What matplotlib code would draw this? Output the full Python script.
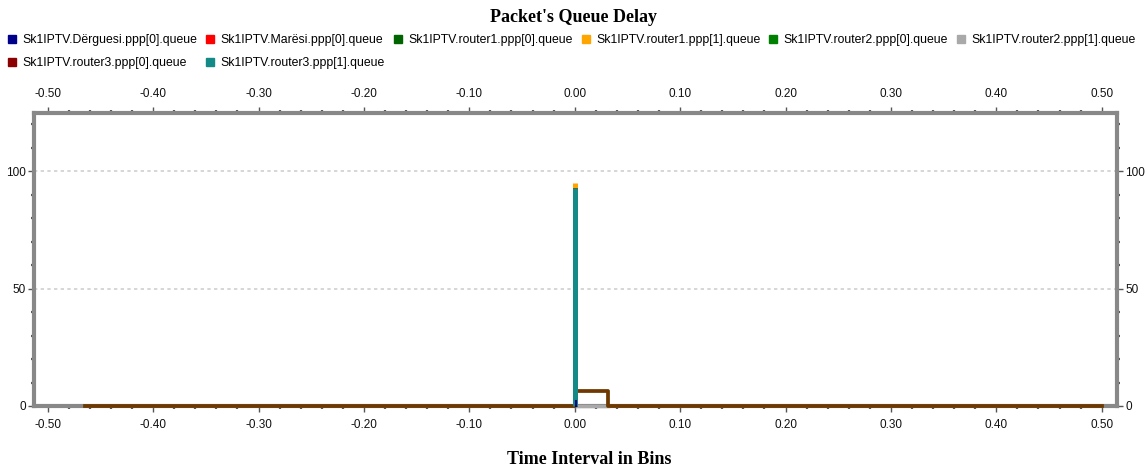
import numpy as np
import matplotlib
matplotlib.use("Agg")
import matplotlib.pyplot as plt
from matplotlib.lines import Line2D
from matplotlib.ticker import MultipleLocator, FormatStrFormatter

plt.rcParams['font.family'] = ['Liberation Sans', 'DejaVu Sans']
plt.rcParams['axes.unicode_minus'] = False

# series names and colours (legend order)
names = ["Sk1IPTV.Dërguesi.ppp[0].queue", "Sk1IPTV.Marësi.ppp[0].queue",
         "Sk1IPTV.router1.ppp[0].queue", "Sk1IPTV.router1.ppp[1].queue",
         "Sk1IPTV.router2.ppp[0].queue", "Sk1IPTV.router2.ppp[1].queue",
         "Sk1IPTV.router3.ppp[0].queue", "Sk1IPTV.router3.ppp[1].queue"]
colors = ["#00008B", "#FF0000", "#006400", "#FFA500",
          "#008000", "#A9A9A9", "#8B0000", "#138A85"]

# values (time bin, queue delay)
t_derguesi = [0.001, 0.001]
v_derguesi = [0.0, 2.0]
t_maresi = [-0.465, 0.0, 0.0, 0.032, 0.032, 0.5]
v_maresi = [0.0, 0.0, 6.5, 6.5, 0.0, 0.0]
t_r1p0 = [-0.465, 0.0, 0.0, 0.032, 0.032, 0.5]
v_r1p0 = [0.0, 0.0, 6.5, 6.5, 0.0, 0.0]
t_r1p1 = [0.0, 0.0]
v_r1p1 = [0.0, 95.0]
t_r2p0 = [0.0, 0.0]
v_r2p0 = [0.0, 93.0]
t_r2p1 = [0.0, 0.032]
v_r2p1 = [0.0, 0.0]
t_r3p0 = [0.0, 0.0]
v_r3p0 = [0.0, 93.0]
t_r3p1 = [0.0, 0.0]
v_r3p1 = [0.0, 93.0]

fig = plt.figure(figsize=(11.48, 4.69), dpi=100)
ax = fig.add_axes([34/1148, 1-406/469, (1117-34)/1148, (406-112.7)/469])

ax.grid(axis="y", color="#cfcfcf", linestyle=(0, (2, 2)), linewidth=1.2)
ax.set_axisbelow(True)

kw = dict(zorder=3, clip_on=False)
ax.plot(t_r2p1, v_r2p1, color=colors[5], lw=2.5, **kw)
ax.plot(t_r1p0, v_r1p0, color=colors[2], lw=2.6, **kw)
ax.plot(t_maresi, v_maresi, color=colors[1], lw=2.6, alpha=0.45, **kw)
ax.plot(t_r1p1, v_r1p1, color=colors[3], lw=3.6, solid_capstyle="butt", **kw)
ax.plot(t_r2p0, v_r2p0, color=colors[4], lw=3.6, solid_capstyle="butt", **kw)
ax.plot(t_r3p0, v_r3p0, color=colors[6], lw=3.6, solid_capstyle="butt", **kw)
ax.plot(t_r3p1, v_r3p1, color=colors[7], lw=3.6, solid_capstyle="butt", **kw)
ax.plot(t_derguesi, v_derguesi, color=colors[0], lw=1.5, **kw)

ax.set_xlim(-0.513, 0.5145)
ax.set_ylim(0, 125)
ax.xaxis.set_major_locator(MultipleLocator(0.1))
ax.xaxis.set_minor_locator(MultipleLocator(0.02))
ax.xaxis.set_major_formatter(FormatStrFormatter("%.2f"))
ax.yaxis.set_major_locator(MultipleLocator(50))
ax.yaxis.set_minor_locator(MultipleLocator(10))
ax.tick_params(which="both", top=True, right=True, labeltop=True, labelright=True,
               direction="out", color="#555555", labelsize=8.5, labelcolor="#111111")
ax.tick_params(which="major", length=4, width=1, pad=5)
ax.tick_params(which="minor", length=2, width=1.6)
ax.tick_params(axis="y", which="major", pad=2)

for s in ax.spines.values():
    s.set_color("#888888")
    s.set_linewidth(3)

fig.text(574/1148, 1-17/469, "Packet's Queue Delay", ha="center", va="center",
         fontsize=13, fontweight="bold", family="Liberation Serif")
fig.text(589/1148, 1-459/469, "Time Interval in Bins", ha="center", va="center",
         fontsize=13, fontweight="bold", family="Liberation Serif")

handles = [Line2D([], [], marker="s", linestyle="none", markersize=6,
                  color=c) for c in colors]
order = [0, 6, 1, 7, 2, 3, 4, 5]
fig.legend([handles[i] for i in order], [names[i] for i in order], ncol=6,
           loc="upper left", bbox_to_anchor=(5/1148, 1-32/469), frameon=False,
           fontsize=8.8, handlelength=0.7, handletextpad=0.5, columnspacing=0.72,
           labelspacing=0.9, borderpad=0.2, borderaxespad=0)

fig.savefig("out.png", dpi=100)
